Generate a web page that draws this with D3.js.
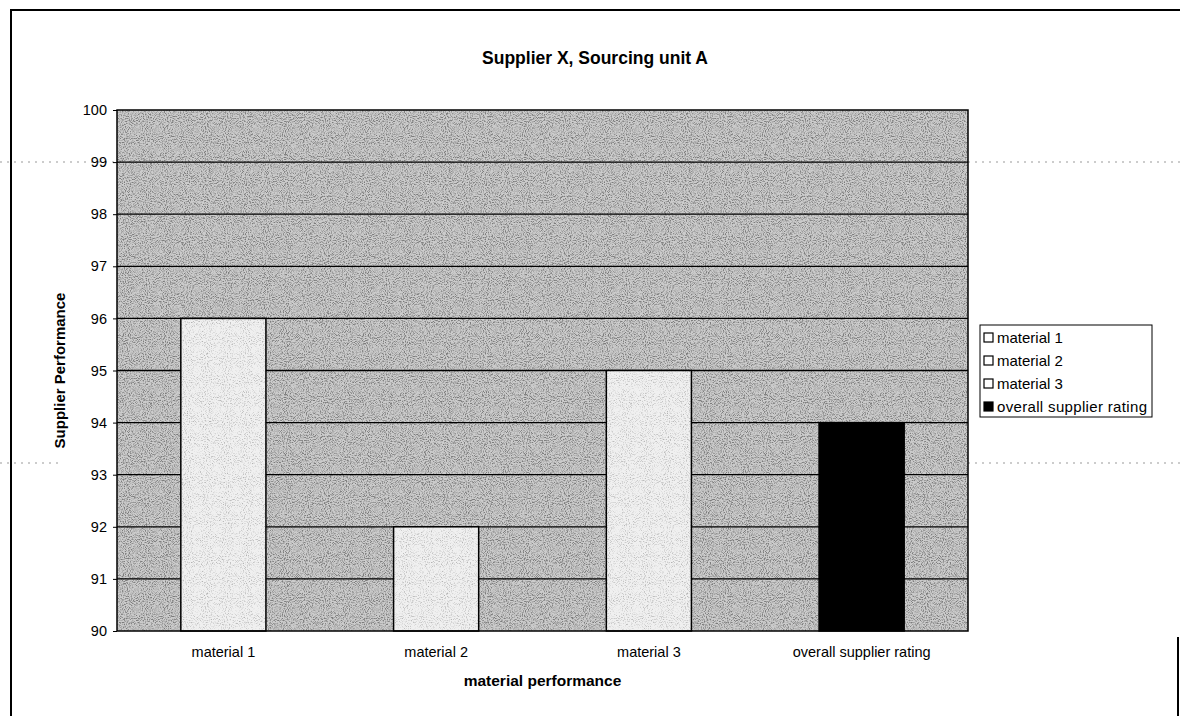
<!DOCTYPE html>
<html>
<head>
<meta charset="utf-8">
<script src="https://cdn.jsdelivr.net/npm/d3@7"></script>
<style>
  body { margin: 0; background: #fff; overflow: hidden; }
  svg { display: block; }
  svg text { font-family: Arial, "Liberation Sans", sans-serif; fill: #000; }
</style>
</head>
<body>
<div id="chart"></div>
<script>
// chart data
const categories = ["material 1", "material 2", "material 3", "overall supplier rating"];
const values = [96, 92, 95, 94];
const barFills = ["url(#lightSpeck)", "url(#lightSpeck)", "url(#lightSpeck)", "#000"];
const yTicks = [90, 91, 92, 93, 94, 95, 96, 97, 98, 99, 100];

const width = 1180, height = 716;
const margin = { top: 110, right: 212, bottom: 85, left: 117 };
const innerWidth = width - margin.left - margin.right,
    innerHeight = height - margin.top - margin.bottom;

const svg = d3.select("#chart").append("svg")
    .attr("width", width)
    .attr("height", height);

// speckled textures, like the scanned print
const defs = svg.append("defs");
const mkSpeck = (id, base, amt, shift) => {
    const f = defs.append("filter").attr("id", id + "F")
        .attr("x", 0).attr("y", 0).attr("width", 1).attr("height", 1);
    f.append("feTurbulence").attr("type", "fractalNoise")
        .attr("baseFrequency", 0.95).attr("numOctaves", 2).attr("seed", 5).attr("result", "n");
    f.append("feColorMatrix").attr("in", "n").attr("type", "matrix")
        .attr("values", `0 0 0 0 ${base}  0 0 0 0 ${base}  0 0 0 0 ${base}  ${amt} 0 0 0 ${shift}`)
        .attr("result", "g");
    f.append("feComposite").attr("in", "g").attr("in2", "SourceGraphic").attr("operator", "atop");
};
mkSpeck("dark", 0.2, 3.2, -1.35);
mkSpeck("light", 0.45, 3, -1.5);

const pDark = defs.append("pattern").attr("id", "darkSpeck")
    .attr("patternUnits", "userSpaceOnUse").attr("width", 240).attr("height", 240);
pDark.append("rect").attr("width", 240).attr("height", 240).attr("fill", "#cccccc")
    .attr("filter", "url(#darkF)");
const pLight = defs.append("pattern").attr("id", "lightSpeck")
    .attr("patternUnits", "userSpaceOnUse").attr("width", 240).attr("height", 240);
pLight.append("rect").attr("width", 240).attr("height", 240).attr("fill", "#f0f0f0")
    .attr("filter", "url(#lightF)");

// outer frame
svg.append("path")
    .attr("d", `M11,716 V10 H1180 M1178,637 V716`)
    .attr("fill", "none").attr("stroke", "#000").attr("stroke-width", 2);

// scan artifacts: faint dotted lines
[[0, 117, 162], [968, 1180, 162], [0, 60, 463], [968, 1180, 463]].forEach(([x1, x2, y]) => {
    svg.append("line").attr("x1", x1).attr("x2", x2).attr("y1", y).attr("y2", y)
        .attr("stroke", "#999").attr("stroke-width", 1).attr("stroke-dasharray", "2,5");
});

const g = svg.append("g")
    .attr("transform", "translate(" + margin.left + "," + margin.top + ")");

const xScale = d3.scaleBand()
    .domain(categories)
    .range([0, innerWidth])
    .paddingInner(0.6)
    .paddingOuter(0.3);
const yScale = d3.scaleLinear()
    .domain([90, 100])
    .range([innerHeight, 0]);

// plot background
g.append("rect")
    .attr("width", innerWidth).attr("height", innerHeight)
    .attr("fill", "url(#darkSpeck)");

// grid lines
g.selectAll(".grid").data(yTicks.slice(1, -1)).enter().append("line")
    .attr("class", "grid")
    .attr("x1", 0).attr("x2", innerWidth)
    .attr("y1", d => yScale(d)).attr("y2", d => yScale(d))
    .attr("stroke", "#000").attr("stroke-width", 1.3);

// bars
g.selectAll(".bar").data(values).enter().append("rect")
    .attr("class", "bar")
    .attr("x", (d, i) => xScale(categories[i]))
    .attr("y", d => yScale(d))
    .attr("width", xScale.bandwidth())
    .attr("height", d => innerHeight - yScale(d))
    .attr("fill", (d, i) => barFills[i])
    .attr("stroke", "#000").attr("stroke-width", 1.5);

// plot border
g.append("rect")
    .attr("width", innerWidth).attr("height", innerHeight)
    .attr("fill", "none").attr("stroke", "#000").attr("stroke-width", 1.5);

// axes
const yAxis = g.append("g")
    .call(d3.axisLeft(yScale).tickValues(yTicks).tickSize(4).tickFormat(d3.format("d")));
yAxis.select(".domain").remove();
yAxis.selectAll("text").attr("font-size", 14.5).attr("dx", "-3");

const xAxis = g.append("g")
    .attr("transform", "translate(0," + innerHeight + ")")
    .call(d3.axisBottom(xScale).tickSize(0));
xAxis.select(".domain").remove();
xAxis.selectAll("text").attr("font-size", 14.5).attr("dy", "1.6em");

// titles
svg.append("text")
    .attr("x", 595).attr("y", 64)
    .attr("text-anchor", "middle")
    .attr("font-size", 17.5).attr("font-weight", "bold")
    .text("Supplier X, Sourcing unit A");

svg.append("text")
    .attr("x", margin.left + innerWidth / 2).attr("y", 686)
    .attr("text-anchor", "middle")
    .attr("font-size", 15.5).attr("font-weight", "bold")
    .text("material performance");

svg.append("text")
    .attr("transform", "translate(65," + (margin.top + innerHeight / 2) + ") rotate(-90)")
    .attr("text-anchor", "middle")
    .attr("font-size", 15).attr("font-weight", "bold")
    .text("Supplier Performance");

// legend
const legend = svg.append("g").attr("transform", "translate(980,325)");
legend.append("rect")
    .attr("width", 172).attr("height", 92)
    .attr("fill", "#fff").attr("stroke", "#000").attr("stroke-width", 1);
const items = legend.selectAll(".item").data(categories).enter().append("g")
    .attr("class", "item")
    .attr("transform", (d, i) => "translate(4," + (13 + i * 23) + ")");
items.append("rect")
    .attr("x", 0).attr("y", -5).attr("width", 9).attr("height", 9)
    .attr("fill", (d, i) => i === 3 ? "#000" : "#fff")
    .attr("stroke", "#000").attr("stroke-width", 1.2);
items.append("text")
    .attr("x", 13).attr("y", 0).attr("dy", "0.35em")
    .attr("font-size", 15)
    .attr("textLength", (d, i) => i === 3 ? 150 : null)
    .text(d => d);
</script>
</body>
</html>
